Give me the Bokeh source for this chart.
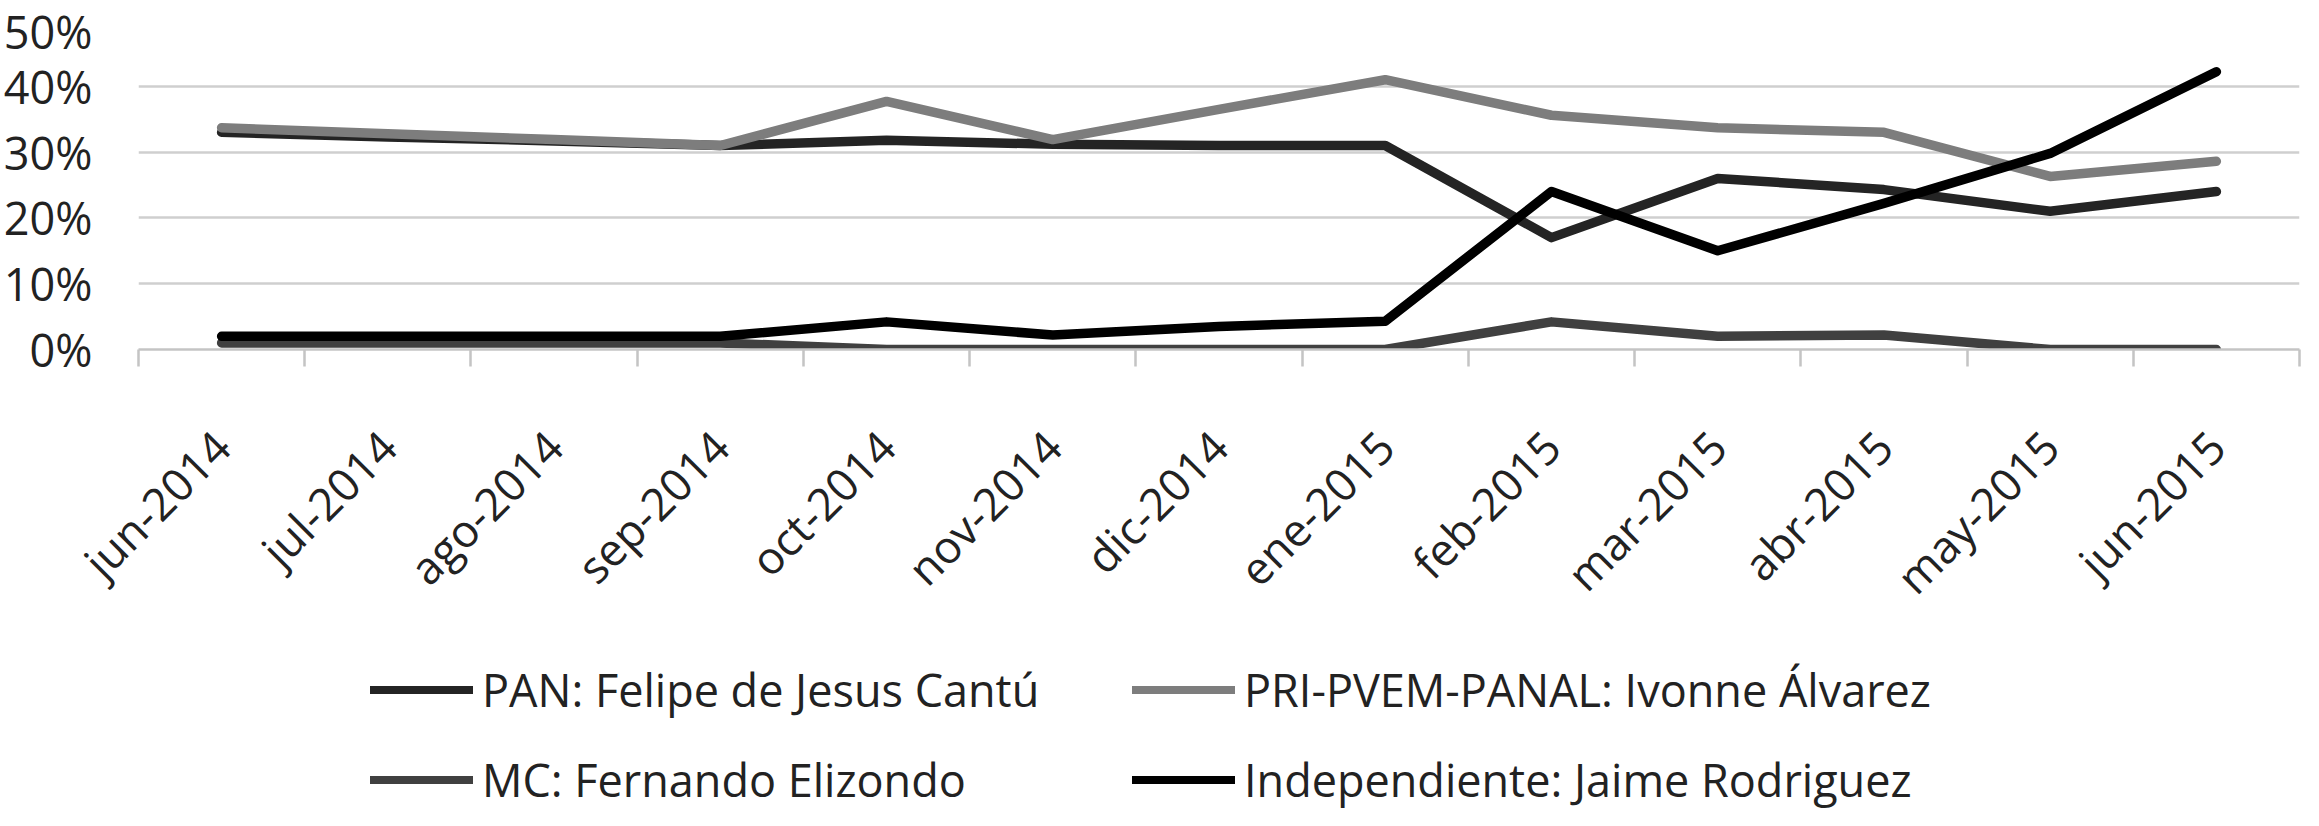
import math
from bokeh.plotting import figure
from bokeh.layouts import column
from bokeh.models import (Range1d, FixedTicker, PrintfTickFormatter, Legend, LegendItem,
                          ColumnDataSource)
from bokeh.embed import file_html
from bokeh.resources import INLINE

months = ["jun-2014", "jul-2014", "ago-2014", "sep-2014", "oct-2014", "nov-2014", "dic-2014",
          "ene-2015", "feb-2015", "mar-2015", "abr-2015", "may-2015", "jun-2015"]
pan = [33.0, 32.3, 31.7, 31.0, 31.8, 31.2, 31.0, 31.0, 17.0, 26.0, 24.3, 21.0, 24.0]
pri = [33.7, 32.8, 31.9, 31.0, 37.7, 31.9, 36.5, 41.0, 35.6, 33.7, 33.0, 26.3, 28.6]
mc = [1.0, 1.0, 1.0, 1.0, 0.0, 0.0, 0.0, 0.0, 4.2, 2.0, 2.2, 0.0, 0.0]
ind = [2.0, 2.0, 2.0, 2.0, 4.2, 2.2, 3.5, 4.3, 24.0, 15.0, 22.2, 29.8, 42.2]
y_ticks = [0, 10, 20, 30, 40, 50]

names = ["PAN: Felipe de Jesus Cantú", "PRI-PVEM-PANAL: Ivonne Álvarez",
         "MC: Fernando Elizondo", "Independiente: Jaime Rodriguez"]
series = [pan, pri, mc, ind]
colors = ["#242424", "#7d7d7d", "#404040", "#000000"]

FONT = "Open Sans"
TXT = "#222222"
FS = "45px"

W = 2303
H1, H2 = 630, 180

p = figure(width=W, height=H1, output_backend="svg", toolbar_location=None,
           x_range=Range1d(0, len(months)), y_range=Range1d(0, 50),
           min_border_left=137, min_border_right=4, min_border_top=20,
           min_border_bottom=H1 - 354)
p.outline_line_color = None
p.background_fill_color = "white"
p.border_fill_color = "white"

xs = [i + 0.5 for i in range(len(months))]

sources = []
for name, vals, col in zip(names, series, colors):
    src = ColumnDataSource(dict(x=xs, y=vals))
    sources.append(src)
    p.line("x", "y", source=src, line_color=col, line_width=9.5,
           line_cap="round", line_join="round")

# x axis
xa = p.xaxis[0]
xa.ticker = FixedTicker(ticks=xs, minor_ticks=list(range(len(months) + 1)))
xa.major_label_overrides = {x: m for x, m in zip(xs, months)}
xa.major_label_orientation = math.pi / 4
xa.major_tick_out = 0
xa.major_tick_in = 0
xa.minor_tick_out = 17
xa.minor_tick_in = 0
xa.minor_tick_line_color = "#c4c4c4"
xa.minor_tick_line_width = 2.5
xa.axis_line_color = "#c4c4c4"
xa.axis_line_width = 2.5
xa.major_label_standoff = 72
xa.major_label_text_font = FONT
xa.major_label_text_font_size = FS
xa.major_label_text_color = TXT

# y axis
ya = p.yaxis[0]
ya.ticker = FixedTicker(ticks=y_ticks)
ya.formatter = PrintfTickFormatter(format="%d%%")
ya.axis_line_color = None
ya.major_tick_line_color = None
ya.minor_tick_line_color = None
ya.major_tick_out = 0
ya.major_label_standoff = 46
ya.major_label_text_font = FONT
ya.major_label_text_font_size = FS
ya.major_label_text_color = TXT

p.xgrid.grid_line_color = None
p.ygrid.ticker = FixedTicker(ticks=y_ticks)
p.ygrid.grid_line_color = "#cfcfcf"
p.ygrid.grid_line_width = 2.5

# legend strip (same series, drawn outside its visible range; only the legend shows)
p2 = figure(width=W, height=H2, output_backend="svg", toolbar_location=None,
            x_range=Range1d(100, 101), y_range=Range1d(100, 101),
            x_axis_location=None, y_axis_location=None,
            min_border_left=0, min_border_right=0, min_border_top=0, min_border_bottom=0)
p2.outline_line_color = None
p2.grid.grid_line_color = None
p2.background_fill_color = "white"
p2.border_fill_color = "white"

items = []
for name, src, col in zip(names, sources, colors):
    r = p2.line("x", "y", source=src, line_color=col, line_width=8, line_cap="round")
    items.append(LegendItem(label=name, renderers=[r]))

legend = Legend(items=items, location=(232, 0), orientation="horizontal", ncols=2,
                glyph_width=103, glyph_height=61, label_standoff=9, label_width=621,
                label_height=61, spacing=29, padding=0, margin=0,
                border_line_color=None, background_fill_alpha=0,
                label_text_font=FONT, label_text_font_size=FS, label_text_color=TXT)
p2.add_layout(legend, "center")

layout = column(p, p2, spacing=0)
open("out.html", "w").write(file_html(layout, INLINE))
